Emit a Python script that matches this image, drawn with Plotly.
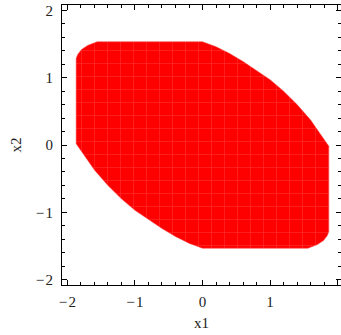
import plotly.graph_objects as go

# Boundary of the shaded region, clockwise from the top-left
boundary_x1 = [-1.56, -1.00, -0.50, 0.00,
               0.20, 0.40, 0.60, 0.80, 1.00, 1.20, 1.40, 1.60, 1.75, 1.87,
               1.87, 1.87, 1.845, 1.79, 1.70, 1.56,
               1.00, 0.50, 0.00,
               -0.20, -0.40, -0.60, -0.80, -1.00, -1.20, -1.40, -1.60, -1.75, -1.87,
               -1.87, -1.87, -1.845, -1.79, -1.70, -1.56]
boundary_x2 = [1.533, 1.533, 1.533, 1.533,
               1.46, 1.36, 1.24, 1.11, 0.97, 0.80, 0.60, 0.37, 0.16, -0.02,
               -0.60, -1.285, -1.35, -1.42, -1.48, -1.533,
               -1.533, -1.533, -1.533,
               -1.46, -1.36, -1.24, -1.11, -0.97, -0.80, -0.60, -0.37, -0.16, 0.02,
               0.60, 1.285, 1.35, 1.42, 1.48, 1.533]

tick_vals = [-2, -1, 0, 1, 2]
tick_text = ["\u2212\u200a2", "\u2212\u200a1", "0", "1", "2"]

fig = go.Figure()
fig.add_trace(go.Scatter(
    x=boundary_x1, y=boundary_x2,
    mode="lines", fill="toself",
    fillcolor="#ff0000",
    fillpattern=dict(shape="+", fgcolor="rgba(255,110,110,0.8)", bgcolor="#ff0000",
                     size=13, solidity=0.1),
    line=dict(color="rgba(245,60,60,0.9)", width=0.6),
    hoverinfo="skip", showlegend=False,
))

font = dict(family="Liberation Serif", size=15, color="#222222")
axis_common = dict(
    showline=True, linecolor="black", linewidth=1, mirror="ticks",
    ticks="inside", ticklen=5, tickwidth=1, tickcolor="black",
    tickvals=tick_vals, ticktext=tick_text,
    minor=dict(dtick=0.2, ticks="inside", ticklen=3, tickwidth=1, tickcolor="black", showgrid=False),
    showgrid=False, zeroline=False, tickfont=font, automargin=False,
)
fig.update_layout(
    width=341, height=335,
    margin=dict(l=62, r=0, t=5, b=50),
    paper_bgcolor="white", plot_bgcolor="white",
    xaxis=dict(range=[-2.08, 2.05], title=dict(text="x1", font=font, standoff=8),
               ticklabelstandoff=3, **axis_common),
    yaxis=dict(range=[-2.08, 2.08], title=dict(text="x2", font=font, standoff=10),
               ticklabelstandoff=5, **axis_common),
    font=font,
)
fig.write_html("out.html", config={"displayModeBar": False},
               post_script="document.body.style.margin='0';document.body.style.overflow='hidden';")
